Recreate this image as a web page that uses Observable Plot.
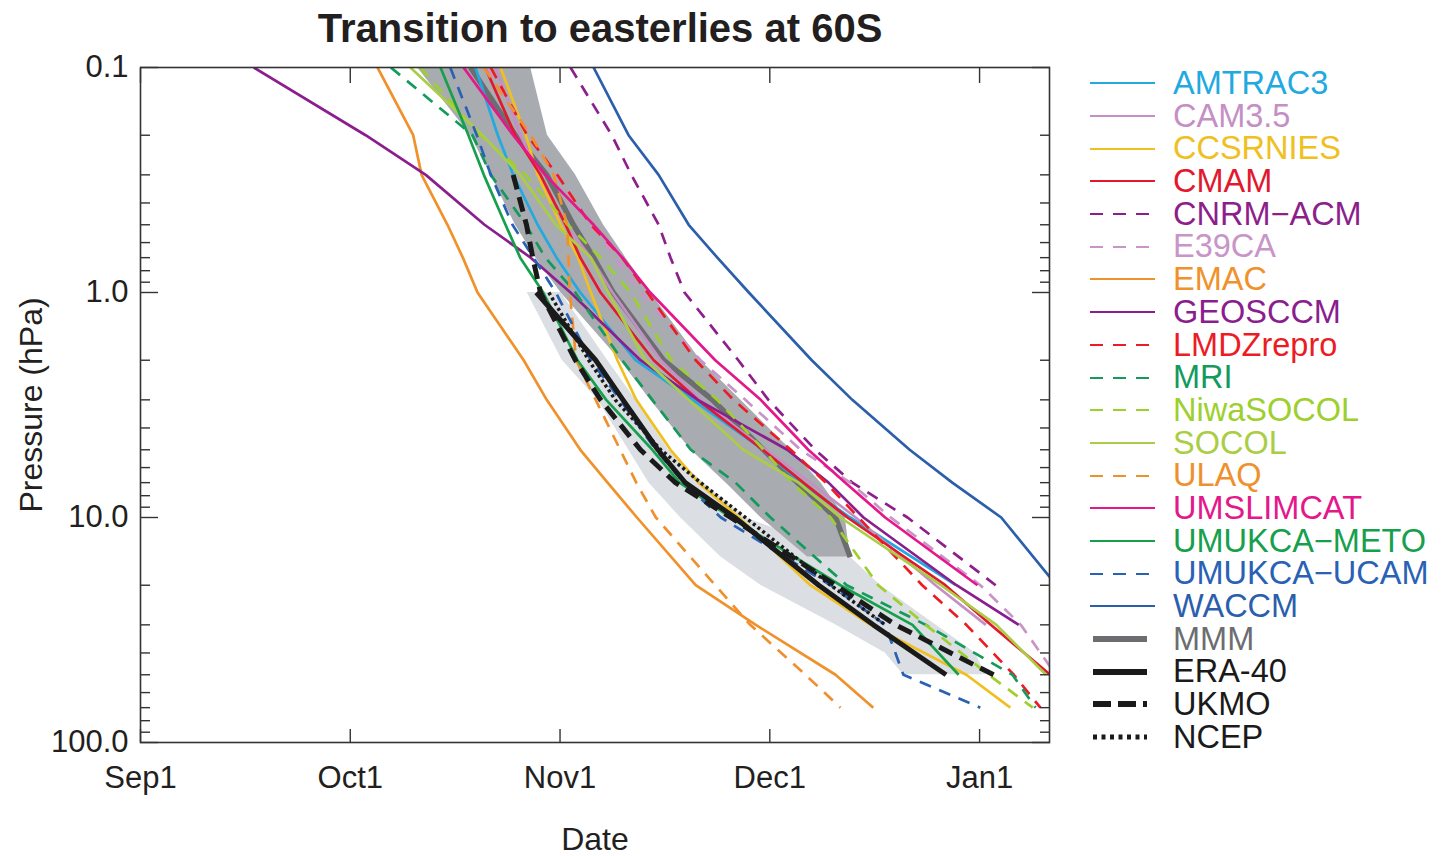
<!DOCTYPE html>
<html>
<head>
<meta charset="utf-8">
<script src="https://cdn.jsdelivr.net/npm/d3@7"></script>
<script src="https://cdn.jsdelivr.net/npm/@observablehq/plot@0.6"></script>
<style>
  body { margin: 0; background: #fff; font-family: "Liberation Sans", Arial, sans-serif; }
  #page { position: relative; width: 1445px; height: 856px; overflow: hidden; }
  #title { position: absolute; left: 150px; top: 4px; width: 900px; text-align: center;
           font-size: 40px; font-weight: bold; line-height: 48px; color: #231f20; }
  #chart { position: absolute; left: 0; top: 50px; }
  #ytitle { position: absolute; left: 31px; top: 405px; transform: translate(-50%, -50%) rotate(-90deg);
            font-size: 32px; line-height: 32px; white-space: nowrap; color: #231f20; }
  #legend { position: absolute; left: 1088px; top: 67px; }
  .row { display: flex; align-items: center; height: 32.7px; overflow: visible; }
  .row svg { flex: none; display: block; }
  .row span { display: block; height: 32.7px; font-size: 32.5px; line-height: 32.7px; white-space: nowrap; overflow: visible; }
</style>
</head>
<body>
<div id="page">
  <div id="title">Transition to easterlies at 60S</div>
  <div id="chart"></div>
  <div id="ytitle">Pressure (hPa)</div>
  <div id="legend"></div>
</div>
<script>
// ---- axis ticks ----
const xTicks = [0, 30, 60, 90, 120];
const xTickLabels = ["Sep1", "Oct1", "Nov1", "Dec1", "Jan1"];
const yMajor = [0.1, 1, 10, 100];
const yMinor = [0.2,0.3,0.4,0.5,0.6,0.7,0.8,0.9, 2,3,4,5,6,7,8,9, 20,30,40,50,60,70,80,90];

// ---- pressure levels (hPa) shared by all series ----
const levels = [0.1, 0.2, 0.3, 0.5, 0.7, 1, 2, 3, 5, 7, 10, 15, 20, 30, 50, 70];

// ---- transition day (days after Sep 1) at each level, null = no data ----
const AMTRAC3   = [47.9, 51.1, 53.3, 56.8, 59.5, 62.9, 70.8, 79.0, 89.0, 94.4, 101.5, null, 116.6, null, null, null];
const CAM35     = [50.8, 54.3, 57.2, 60.8, 64.4, 67.5, 74.4, 80.1, 89.4, 95.8, 102.3, null, 113.7, 120.9, null, null];
const CCSRNIES  = [51.5, 55.1, 56.8, 60.1, 62.6, 64.4, 68.2, 70.9, 75.8, 79.8, 85.6, null, 95.8, 104.4, 118.1, 124.4];
const CMAM      = [49.3, 53.6, 57.2, 60.8, 62.9, 65.8, 73.4, 79.7, 89.0, 94.8, 101.1, null, 115.1, 121.6, 130.1, null];
const CNRM_ACM  = [61.5, 67.4, 70.2, 74.1, 75.8, 77.8, 85.5, 89.8, 96.5, 101.8, 109.7, null, 122.3, null, null, null];
const E39CA     = [49.6, 55.8, 59.4, 64.4, 67.9, 71.5, 80.1, 86.5, 94.4, 101.5, 107.3, null, 120.1, 125.9, 130.9, null];
const EMAC      = [33.9, 39.0, 40.2, 43.9, 46.1, 48.2, 54.8, 58.1, 62.9, 66.8, 71.0, null, 79.4, 88.0, 99.4, 104.8];
const GEOSCCM   = [16.2, 32.2, 40.8, 49.2, 55.8, 61.5, 71.5, 79.7, 92.5, 98.4, 103.4, null, 116.7, 125.6, null, null];
const LMDZrepro = [50.1, 55.3, 59.6, 64.4, 68.9, 72.5, 79.4, 84.8, 93.0, 98.0, 102.7, null, 111.8, 118.1, 124.9, 128.7];
const MRI       = [35.8, 47.5, 50.1, 55.1, 57.9, 62.2, 68.9, 73.2, 78.7, 85.1, 90.1, null, 101.0, 112.3, 124.7, 128.0];
const NiwaSOCOL = [40.0, 48.6, 55.1, 61.1, 65.8, 70.1, 75.9, 82.5, 89.1, 93.1, 98.7, null, 105.5, 112.3, 121.3, 127.6];
const SOCOL     = [38.6, 48.9, 54.3, 59.4, 64.4, 66.9, 72.2, 78.4, 86.2, 94.1, 100.1, null, 114.5, 122.4, 129.5, null];
const ULAQ      = [49.1, 55.8, 59.1, 61.0, 61.2, 61.4, 62.3, 65.1, 68.6, 70.9, 73.7, null, 82.2, 87.2, 95.1, 100.1];
const UMSLIMCAT = [46.2, 53.3, 57.9, 64.8, 68.9, 72.9, 82.2, 88.7, 95.5, 100.8, 106.5, null, 119.7, null, null, null];
const UMUKCA_METO = [42.9, 46.9, 49.1, 52.2, 54.3, 57.6, 62.5, 66.6, 73.2, 77.1, 84.4, null, 100.1, 110.4, 117.0, null];
const UMUKCA_UCAM = [44.3, 48.1, 50.1, 53.2, 56.2, 59.4, 64.4, 68.6, 73.7, 77.7, 83.0, null, 98.7, 106.5, 109.1, 120.1];
const WACCM     = [64.8, 69.8, 74.1, 78.4, 82.5, 87.0, 96.0, 101.8, 110.0, 116.1, 123.1, null, 131.0, null, null, null];
const MMM       = [47.2, 53.6, 58.1, 61.9, 64.8, 67.6, 74.8, 81.8, 89.1, 94.0, 99.4, 101.5, null, null, null, null];
const ERA40     = [null, null, null, null, null, 56.6, 65.1, 69.0, 74.0, 77.9, 85.0, null, 97.0, 104.8, 115.2, null];
const UKMO      = [null, null, 53.3, 55.2, 56.1, 57.2, 62.2, 65.8, 71.5, 76.5, 84.4, null, 99.4, 108.0, 122.0, null];
const NCEP      = [null, null, null, null, null, 58.4, 64.1, 67.9, 74.4, 80.1, 86.5, null, 98.7, 106.5, null, null];

// ---- shaded spreads ----
const modelBandP  = [0.1, 0.2, 0.3, 0.5, 0.7, 1, 2, 3, 5, 7, 10, 15];
const modelBandLo = [39.6, 47.2, 50.1, 53.6, 56.5, 60.1, 68.6, 72.9, 78.7, 83.7, 88.7, 95.4];
const modelBandHi = [55.8, 58.2, 62.2, 66.2, 69.4, 72.9, 80.1, 85.8, 93.0, 97.3, 100.8, 101.5];
const obsBandP  = [1, 2, 3, 5, 7, 10, 15, 20, 30, 40, 50];
const obsBandLo = [55.3, 60.3, 65.4, 69.8, 72.7, 77.2, 83.0, 88.7, 99.4, 106.5, 109.1];
const obsBandHi = [60.1, 66.8, 70.8, 75.5, 80.5, 86.5, 101.5, 105.8, 113.7, 119.4, 120.9];

// ---- series names & styles ----
const names  = ["AMTRAC3","CAM3.5","CCSRNIES","CMAM","CNRM\u2212ACM","E39CA","EMAC","GEOSCCM","LMDZrepro","MRI",
                "NiwaSOCOL","SOCOL","ULAQ","UMSLIMCAT","UMUKCA\u2212METO","UMUKCA\u2212UCAM","WACCM","MMM","ERA-40","UKMO","NCEP"];
const values = [AMTRAC3, CAM35, CCSRNIES, CMAM, CNRM_ACM, E39CA, EMAC, GEOSCCM, LMDZrepro, MRI,
                NiwaSOCOL, SOCOL, ULAQ, UMSLIMCAT, UMUKCA_METO, UMUKCA_UCAM, WACCM, MMM, ERA40, UKMO, NCEP];
const colors = ["#22a9df","#c58fc5","#efc020","#e2182e","#8c1f8c","#c995c8","#f0912a","#8b1e8e","#ec1c24","#139a5c",
                "#9dcf2d","#abcd45","#ef902e","#e4178b","#17a04c","#2962b4","#2b5fac","#6b6d70","#1a1a1a","#1a1a1a","#1a1a1a"];
const kinds  = ["solid","solid","solid","solid","dash","dash","solid","solid","dash","dash",
                "dash","solid","dash","solid","solid","dash","solid","mean","obs","obsdash","obsdot"];

const styleOf = {
  solid:   {strokeWidth: 2.7, dash: null,   legendW: 2,   legendDash: null,     x1: 2, x2: 67},
  dash:    {strokeWidth: 2.7, dash: "12,9", legendW: 2,   legendDash: "13,10",  x1: 2, x2: 67},
  mean:    {strokeWidth: 5.5, dash: null,   legendW: 6,   legendDash: null,     x1: 5, x2: 59},
  obs:     {strokeWidth: 5,   dash: null,   legendW: 6,   legendDash: null,     x1: 5, x2: 59},
  obsdash: {strokeWidth: 5,   dash: "15,8", legendW: 6,   legendDash: "18,7",   x1: 5, x2: 59},
  obsdot:  {strokeWidth: 3.5, dash: "3,3",  legendW: 5,   legendDash: "4,4.5",  x1: 5, x2: 59}
};

const seriesData = values.map(arr => levels.map((p, i) => ({p, day: arr[i]})).filter(d => d.day != null));
const modelBand = modelBandP.map((p, i) => ({p, lo: modelBandLo[i], hi: modelBandHi[i]}));
const obsBand = obsBandP.map((p, i) => ({p, lo: obsBandLo[i], hi: obsBandHi[i]}));

// draw order: bands, MMM, models, observations
const order = [17, ...d3.range(0, 17), 18, 19, 20];
const lineMarks = order.map(i => {
  const s = styleOf[kinds[i]];
  return Plot.line(seriesData[i], {
    x: "day", y: "p", stroke: colors[i], strokeWidth: s.strokeWidth,
    strokeDasharray: s.dash || undefined, clip: true, strokeLinecap: "butt"
  });
});

const font = "Liberation Sans, Arial, sans-serif";
const axisColor = "#333";

const chart = Plot.plot({
  width: 1075,
  height: 806,
  marginTop: 17,
  marginBottom: 114,
  marginLeft: 140,
  marginRight: 26,
  style: {fontFamily: font, color: "#231f20", background: "white", overflow: "visible"},
  x: {domain: [0, 130], axis: null},
  y: {type: "log", domain: [0.1, 100], reverse: true, axis: null},
  marks: [
    Plot.areaX(obsBand, {y: "p", x1: "lo", x2: "hi", fill: "#dbdee2", clip: true}),
    Plot.areaX(modelBand, {y: "p", x1: "lo", x2: "hi", fill: "#a8acb1", clip: true}),
    ...lineMarks,
    Plot.frame({stroke: axisColor, strokeWidth: 1.6}),
    // bottom tick labels
    Plot.axisX(xTicks, {anchor: "bottom", tickSize: 0, tickPadding: 23, fontSize: 31,
      tickFormat: d => xTickLabels[xTicks.indexOf(d)], label: null}),
    // inward ticks on bottom and top
    Plot.axisX(xTicks, {anchor: "bottom", tickSize: 13, dy: -13, fill: "none", stroke: axisColor, strokeWidth: 1.4, label: null}),
    Plot.axisX(xTicks, {anchor: "top", tickSize: 15, dy: 15, fill: "none", stroke: axisColor, strokeWidth: 1.4, label: null}),
    // left tick labels
    Plot.axisY(yMajor, {anchor: "left", tickSize: 0, tickPadding: 12, fontSize: 31,
      tickFormat: d => d.toFixed(1), label: null}),
    // inward ticks left/right
    Plot.axisY(yMajor, {anchor: "left", tickSize: 18, dx: 18, fill: "none", stroke: axisColor, strokeWidth: 1.4, label: null}),
    Plot.axisY(yMinor, {anchor: "left", tickSize: 10, dx: 10, fill: "none", stroke: axisColor, strokeWidth: 1.4, label: null}),
    Plot.axisY(yMajor, {anchor: "right", tickSize: 18, dx: -18, fill: "none", stroke: axisColor, strokeWidth: 1.4, label: null}),
    Plot.axisY(yMinor, {anchor: "right", tickSize: 10, dx: -10, fill: "none", stroke: axisColor, strokeWidth: 1.4, label: null}),
    // x axis title
    Plot.text(["Date"], {frameAnchor: "bottom", dy: 107, fontSize: 32, fill: "#231f20"})
  ]
});
document.getElementById("chart").appendChild(chart);

// ---- legend ----
const legend = document.getElementById("legend");
names.forEach((name, i) => {
  const s = styleOf[kinds[i]];
  const row = document.createElement("div");
  row.className = "row";
  row.innerHTML =
    `<svg width="85" height="30" viewBox="0 0 85 30">` +
    `<line x1="${s.x1}" x2="${s.x2}" y1="15" y2="15" stroke="${colors[i]}" stroke-width="${s.legendW}"` +
    (s.legendDash ? ` stroke-dasharray="${s.legendDash}"` : "") + `/></svg>` +
    `<span style="color:${colors[i]}">${name}</span>`;
  legend.appendChild(row);
});
</script>
</body>
</html>
